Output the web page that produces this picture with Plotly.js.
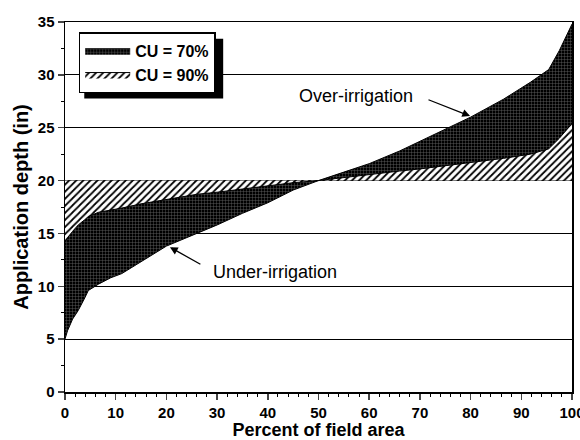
<!DOCTYPE html>
<html>
<head>
<meta charset="utf-8">
<script src="https://cdn.plot.ly/plotly-3.0.1.min.js"></script>
<style>html,body{margin:0;padding:0;background:#fff;}#chart{width:580px;height:440px;}</style>
</head>
<body>
<div id="chart"></div>
<script>
// Percent of field area
const areaPct = [0, 0.5, 1.5, 2.6, 3.9, 4.6, 6.6, 9, 11.2, 15, 20, 26, 30, 35, 40, 45, 50, 55, 60, 66, 70, 75, 80, 86.5, 91.8, 95.4, 97.5, 100];
// Application depth, CU = 70%
const depthCU70 = [5.0, 5.8, 6.9, 7.7, 8.9, 9.6, 10.2, 10.8, 11.2, 12.3, 13.8, 15.0, 15.8, 16.9, 17.9, 19.1, 20.0, 20.8, 21.6, 22.8, 23.7, 24.8, 26.0, 27.7, 29.3, 30.5, 32.3, 34.8];
// Application depth, CU = 90%
const depthCU90 = [14.2, 14.6, 15.2, 15.8, 16.3, 16.6, 17.0, 17.2, 17.4, 17.8, 18.2, 18.7, 18.9, 19.2, 19.5, 19.8, 20.0, 20.3, 20.6, 20.9, 21.1, 21.4, 21.7, 22.1, 22.5, 23.0, 24.0, 25.4];
// Target application depth (in)
const targetDepth = 20;
const targetLine = areaPct.map(() => targetDepth);

const xTicks = [0, 10, 20, 30, 40, 50, 60, 70, 80, 90, 100];
const yTicks = [0, 5, 10, 15, 20, 25, 30, 35];

const FONT = 'Liberation Sans, Arial, sans-serif';

const traces = [
  {x: areaPct, y: targetLine, mode: 'lines', line: {width: 0}, showlegend: false, hoverinfo: 'skip'},
  {x: areaPct, y: depthCU70, mode: 'lines', name: 'CU = 70%', fill: 'tonexty',
   line: {color: 'black', width: 1},
   fillcolor: 'black',
   fillpattern: {shape: '+', bgcolor: '#000000', fgcolor: '#6a6a6a', size: 3, solidity: 0.25}},
  {x: areaPct, y: targetLine, mode: 'lines', line: {width: 0}, showlegend: false, hoverinfo: 'skip'},
  {x: areaPct, y: depthCU90, mode: 'lines', name: 'CU = 90%', fill: 'tonexty',
   line: {color: 'black', width: 1},
   fillcolor: 'white',
   fillpattern: {shape: '/', bgcolor: '#ffffff', fgcolor: '#000000', size: 5, solidity: 0.35}}
];

const layout = {
  width: 580, height: 440,
  margin: {l: 65, r: 8, t: 22, b: 48},
  paper_bgcolor: 'white', plot_bgcolor: 'white',
  font: {family: FONT, color: 'black'},
  showlegend: true,
  legend: {x: 0.027, y: 0.972, xanchor: 'left', yanchor: 'top',
    bgcolor: 'white', bordercolor: 'black', borderwidth: 1.5,
    font: {size: 16, family: FONT, weight: 'bold'},
    traceorder: 'normal', itemwidth: 45},
  xaxis: {range: [0, 100], tickvals: xTicks, ticks: 'outside', ticklen: 6, tickwidth: 1.5,
    ticklabeloverflow: 'allow',
    showline: true, linecolor: 'black', linewidth: 1.5, mirror: true, showgrid: false, zeroline: false,
    minor: {dtick: 2, ticks: 'outside', ticklen: 3, tickwidth: 1, tickcolor: 'black'},
    tickfont: {size: 15, weight: 'bold'},
    title: {text: 'Percent of field area', font: {size: 18, weight: 'bold'}, standoff: 0}},
  yaxis: {range: [0, 35], tickvals: yTicks, ticks: 'outside', ticklen: 6, tickwidth: 1.5,
    showline: true, linecolor: 'black', linewidth: 1.5, mirror: true,
    showgrid: true, gridcolor: 'black', gridwidth: 1, zeroline: false,
    minor: {dtick: 2.5, ticks: 'outside', ticklen: 3, tickwidth: 1, tickcolor: 'black'},
    tickfont: {size: 15, weight: 'bold'},
    title: {text: 'Application depth (in)', font: {size: 20, weight: 'bold'}, standoff: 4}},
  shapes: [
    {type: 'rect', xref: 'paper', yref: 'paper', x0: 0.038, x1: 0.312, y0: 0.793, y1: 0.955,
     fillcolor: 'black', line: {width: 0}, layer: 'above'}
  ],
  annotations: [
    {x: 79.9, y: 26.1, ax: 71.4, ay: 27.7, axref: 'x', ayref: 'y', xref: 'x', yref: 'y',
     showarrow: true, arrowhead: 2, arrowsize: 1.2, arrowwidth: 1.3, arrowcolor: 'black', text: ''},
    {x: 57.4, y: 28.0, xref: 'x', yref: 'y', text: 'Over-irrigation', showarrow: false,
     font: {size: 18, family: FONT}},
    {x: 20.7, y: 13.7, ax: 27.0, ay: 12.0, axref: 'x', ayref: 'y', xref: 'x', yref: 'y',
     showarrow: true, arrowhead: 2, arrowsize: 1.2, arrowwidth: 1.3, arrowcolor: 'black', text: ''},
    {x: 41.4, y: 11.35, xref: 'x', yref: 'y', text: 'Under-irrigation', showarrow: false,
     font: {size: 18, family: FONT}}
  ]
};

Plotly.newPlot('chart', traces, layout, {displayModeBar: false, staticPlot: true});
</script>
</body>
</html>
